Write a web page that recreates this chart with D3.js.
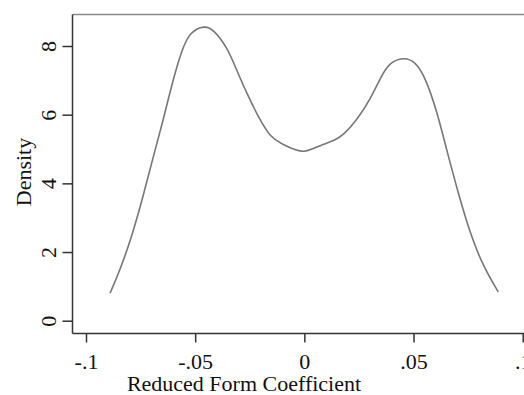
<!DOCTYPE html>
<html>
<head>
<meta charset="utf-8">
<script src="https://cdn.jsdelivr.net/npm/d3@7"></script>
<style>
  html, body { margin: 0; padding: 0; background: #fff; }
  svg { display: block; font-family: "Liberation Serif", "Times New Roman", serif; }
</style>
</head>
<body>
<div id="chart"></div>
<script>
// kernel density estimate
const coefX = [-0.0890, -0.0844, -0.0790, -0.0737, -0.0691, -0.0646, -0.0607, -0.0561, -0.0523,
  -0.0455, -0.0417, -0.0355, -0.0310, -0.0264, -0.0203, -0.0157, -0.0103, -0.0035, 0,
  0.0026, 0.0087, 0.0141, 0.0179, 0.0240, 0.0301, 0.0354, 0.0392, 0.0453, 0.0507,
  0.0553, 0.0606, 0.0652, 0.0705, 0.0759, 0.0820, 0.0888];
const densityY = [0.80, 1.48, 2.45, 3.66, 4.80, 5.85, 6.88, 7.90, 8.42,
  8.60, 8.48, 7.98, 7.30, 6.62, 5.84, 5.36, 5.14, 4.95, 4.92,
  4.97, 5.14, 5.26, 5.41, 5.84, 6.43, 7.15, 7.52, 7.67, 7.56,
  7.10, 6.13, 4.97, 3.71, 2.54, 1.57, 0.84];

const xTicks = [-0.1, -0.05, 0, 0.05, 0.1];
const xTickLabels = ["-.1", "-.05", "0", ".05", ".1"];
const yTicks = [0, 2, 4, 6, 8];

const width = 524, height = 395;
const frame = { left: 72.5, top: 14.5, right: 540, bottom: 333.5 };
const fontSize = 22;

const svg = d3.select("#chart").append("svg")
  .attr("width", width)
  .attr("height", height);

const x = d3.scaleLinear().domain([-0.1, 0.1]).range([86, 522.7]);
const y = d3.scaleLinear().domain([0, 8]).range([320.7, 46]);

// plot region outline (top edge lighter)
svg.append("line")
  .attr("x1", frame.left).attr("x2", frame.right)
  .attr("y1", frame.top).attr("y2", frame.top)
  .attr("stroke", "#8a8a8a").attr("stroke-width", 1.5);

// y axis
const yAxis = svg.append("g")
  .attr("transform", `translate(${frame.left},0)`)
  .call(d3.axisLeft(y).tickValues(yTicks).tickSize(10).tickSizeOuter(0).tickFormat(d3.format("d")));
yAxis.select(".domain").attr("d", `M0,${frame.top}V${frame.bottom}`);
yAxis.selectAll(".tick text")
  .attr("transform", "rotate(-90)")
  .attr("x", 0).attr("y", -17)
  .attr("dy", 0)
  .attr("text-anchor", "middle")
  .attr("font-size", fontSize)
  .attr("font-family", "Liberation Serif, serif")
  .attr("fill", "#111");

// x axis
const xAxis = svg.append("g")
  .attr("transform", `translate(0,${frame.bottom})`)
  .call(d3.axisBottom(x).tickValues(xTicks).tickSize(9).tickSizeOuter(0)
    .tickFormat((d, i) => xTickLabels[i]));
xAxis.select(".domain").attr("d", `M${frame.left},0H${frame.right}`);
xAxis.selectAll(".tick text")
  .attr("y", 35.5)
  .attr("dy", 0)
  .attr("font-size", fontSize)
  .attr("font-family", "Liberation Serif, serif")
  .attr("fill", "#111");

svg.selectAll(".domain, .tick line").attr("stroke", "#333").attr("stroke-width", 1.5);

// axis titles
svg.append("text")
  .attr("transform", "rotate(-90)")
  .attr("x", -172).attr("y", 31)
  .attr("text-anchor", "middle")
  .attr("font-size", fontSize)
  .attr("fill", "#111")
  .text("Density");

svg.append("text")
  .attr("x", 244).attr("y", 391)
  .attr("text-anchor", "middle")
  .attr("font-size", fontSize)
  .attr("fill", "#111")
  .text("Reduced Form Coefficient");

// density curve
const line = d3.line()
  .x((d, i) => x(coefX[i]))
  .y(d => y(d))
  .curve(d3.curveBasis);

svg.append("path")
  .datum(densityY)
  .attr("fill", "none")
  .attr("stroke", "#777")
  .attr("stroke-width", 1.6)
  .attr("d", line);
</script>
</body>
</html>
